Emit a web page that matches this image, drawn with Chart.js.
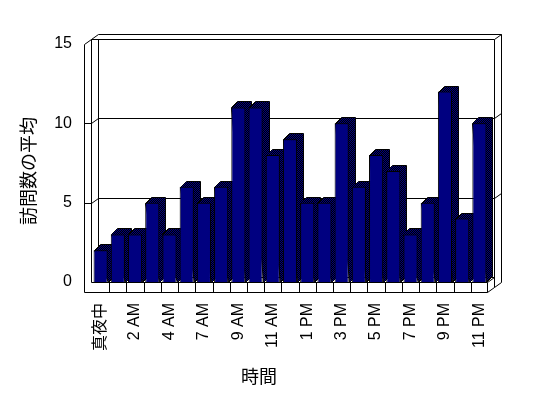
<!DOCTYPE html>
<html>
<head>
<meta charset="utf-8">
<script src="https://cdn.jsdelivr.net/npm/chart.js@4/dist/chart.umd.min.js"></script>
<style>
  html, body { margin: 0; padding: 0; background: #fff; }
  canvas { display: block; }
</style>
</head>
<body>
<canvas id="c" width="548" height="398"></canvas>
<script>
// 時間帯別の平均訪問数（3D 縦棒風）
const hours = ['真夜中', '1 AM', '2 AM', '3 AM', '4 AM', '5 AM', '7 AM', '8 AM', '9 AM', '10 AM', '11 AM', '正午',
    '1 PM', '2 PM', '3 PM', '4 PM', '5 PM', '6 PM', '7 PM', '8 PM', '9 PM', '10 PM', '11 PM'];
const visits = [2, 3, 3, 5, 3, 6, 5, 6, 11, 11, 8, 9, 5, 5, 10, 6, 8, 7, 3, 5, 12, 4, 10];
const yTicks = [0, 5, 10, 15];
const xTitle = '時間';
const yTitle = '訪問数の平均';

const FONT = "'Liberation Sans', 'Noto Sans CJK JP', sans-serif";
const C = { front: '#000080', edge: '#000000' };
const FRAME = { dx: 7, dy: 5, floor: 10 };   // 奥行き・床の厚み
const BAR3D = { dx: 6, dy: 6 };

function dither(ctx) {
    const c = document.createElement('canvas');
    c.width = 2; c.height = 2;
    const g = c.getContext('2d');
    g.fillStyle = '#000000'; g.fillRect(0, 0, 2, 2);
    g.fillStyle = C.front; g.fillRect(0, 0, 1, 1); g.fillRect(1, 1, 1, 1);
    return ctx.createPattern(c, 'repeat');
}

const px = (v) => Math.round(v) + 0.5;
function line(ctx, pts) {
    ctx.beginPath();
    pts.forEach(([x, y], i) => (i ? ctx.lineTo(px(x), px(y)) : ctx.moveTo(px(x), px(y))));
    ctx.stroke();
}

// 壁・床・目盛り線、棒の上面と側面（前面は Chart.js が描く）
const box3d = {
    id: 'box3d',
    beforeDatasetsDraw(chart) {
        const { ctx, chartArea: ca, scales: { x, y } } = chart;
        const { dx, dy, floor } = FRAME;
        const top = y.getPixelForValue(yTicks[yTicks.length - 1]);
        const y0 = y.getPixelForValue(0);
        const xl1 = ca.left - 1, xl0 = xl1 - dx, xl2 = xl1 + dx;
        const xr0 = ca.right - 1, xr1 = xr0 + dx, xr2 = xr1 + dx;
        const fb = y0 + floor;

        ctx.save();
        ctx.strokeStyle = C.edge;
        ctx.lineWidth = 1;
        // 左壁
        line(ctx, [[xl0, fb], [xl0, top], [xl1, top - dy], [xl2, top - 2 * dy]]);
        line(ctx, [[xl1, top - dy], [xl1, y0]]);
        line(ctx, [[xl2, top - dy], [xl2, y0 - dy]]);
        // 奥の壁
        line(ctx, [[xl1, top - dy], [xr1, top - dy], [xr2, top - 2 * dy], [xl2, top - 2 * dy]]);
        line(ctx, [[xr1, top - dy], [xr1, fb - dy]]);
        line(ctx, [[xr2, top - 2 * dy], [xr2, fb - 2 * dy], [xr1, fb - dy], [xr0, fb]]);
        // 目盛り線
        yTicks.slice(1, -1).forEach((v) => {
            const yy = y.getPixelForValue(v);
            line(ctx, [[xl0, yy], [xl1, yy], [xl2, yy - dy], [xr1, yy - dy], [xr2, yy - 2 * dy]]);
        });
        // 床
        line(ctx, [[xl0, fb], [xr0, fb]]);
        line(ctx, [[xl1, y0], [xr0, y0], [xr1, y0 - dy]]);
        line(ctx, [[xl2, y0 - dy], [xr1, y0 - dy]]);
        line(ctx, [[xr0, y0], [xr0, fb]]);
        for (let i = 1; i < hours.length; i++) {
            const xx = (x.getPixelForValue(i - 1) + x.getPixelForValue(i)) / 2;
            line(ctx, [[xx, y0], [xx, fb]]);
        }

        // 棒の上面・側面
        const pat = dither(ctx);
        chart.getDatasetMeta(0).data.forEach((bar) => {
            const { x: cx, y: ty, base, width } = bar.getProps(['x', 'y', 'base', 'width'], true);
            const l = Math.round(cx - width / 2), r = Math.round(cx + width / 2);
            const t = Math.round(ty), b = Math.round(base);
            ctx.beginPath();
            ctx.moveTo(l + 0.5, t + 0.5);
            ctx.lineTo(l + BAR3D.dx + 0.5, t - BAR3D.dy + 0.5);
            ctx.lineTo(r + BAR3D.dx + 0.5, t - BAR3D.dy + 0.5);
            ctx.lineTo(r + BAR3D.dx + 0.5, b - BAR3D.dy + 0.5);
            ctx.lineTo(r + 0.5, b + 0.5);
            ctx.closePath();
            ctx.fillStyle = pat;
            ctx.fill();
            ctx.stroke();
        });
        ctx.restore();
    },
    afterDraw(chart) {
        const { ctx } = chart;
        ctx.save();
        ctx.fillStyle = '#000';
        ctx.font = "18px 'Noto Sans CJK JP', sans-serif";
        ctx.textAlign = 'center';
        ctx.textBaseline = 'middle';
        ctx.fillText(xTitle, 259, 376);
        ctx.translate(28, 171);
        ctx.rotate(-Math.PI / 2);
        ctx.fillText(yTitle, 0, 0);
        ctx.restore();
    },
};

Chart.defaults.color = '#000';
Chart.defaults.font.family = FONT;
Chart.defaults.font.size = 16;

new Chart(document.getElementById('c'), {
    type: 'bar',
    data: {
        labels: hours,
        datasets: [{
            data: visits,
            backgroundColor: C.front,
            borderColor: C.edge,
            borderWidth: 1,
            barPercentage: 0.82,
            categoryPercentage: 1,
        }],
    },
    options: {
        responsive: false,
        animation: false,
        devicePixelRatio: 1,
        layout: { padding: { left: 0, top: 44, right: 60, bottom: 0 } },
        plugins: { legend: { display: false }, tooltip: { enabled: false } },
        scales: {
            x: {
                grid: { display: false, drawTicks: false },
                border: { display: false },
                ticks: {
                    autoSkip: false, minRotation: 90, maxRotation: 90, padding: 21,
                    callback: (v, i) => (i % 2 ? '' : hours[i]),
                },
                afterFit: (s) => { s.height = 116; },
            },
            y: {
                min: 0, max: 15,
                grid: { display: false, drawTicks: false },
                border: { display: false },
                ticks: { stepSize: 5, padding: 20 },
                afterFit: (s) => { s.width = 92; },
            },
        },
    },
    plugins: [box3d],
});
</script>
</body>
</html>
